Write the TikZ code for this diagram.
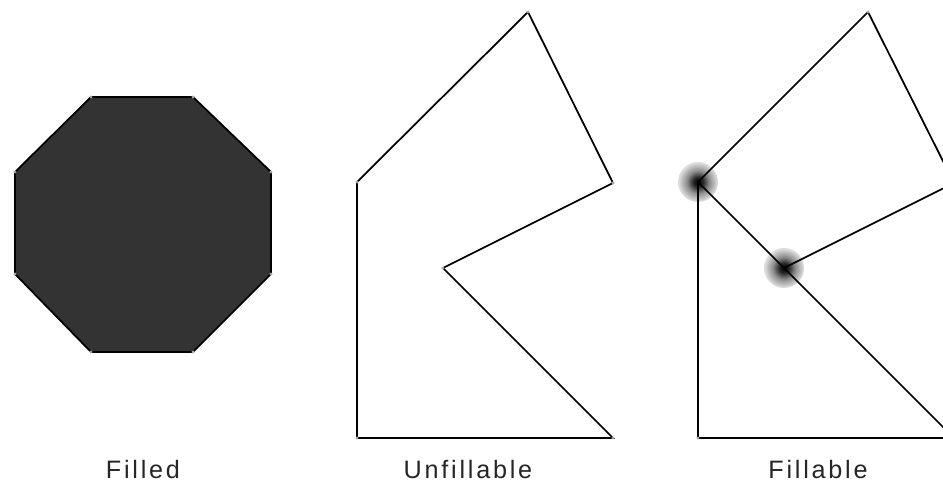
\documentclass[tikz,border=0pt]{standalone}
\usepackage{fontspec}
\setsansfont{Liberation Sans}[LetterSpace=11]
\usetikzlibrary{positioning}

\pgfdeclareradialshading{halo}{\pgfpoint{0cm}{0cm}}{%
    color(0bp)=(black); color(6bp)=(black!85); color(14bp)=(black!45);
    color(24bp)=(black!14); color(34bp)=(black!3); color(42bp)=(white); color(50bp)=(white)}

\begin{document}
\begin{tikzpicture}[
    x=0.03cm, y=-0.03cm,
    edge/.style={line width=1.5pt, black, line cap=round},
    corner/.style={fill=gray!70},
    glow/.style={shading=halo},
    caption/.style={font=\sffamily\fontsize{21.5}{26}\selectfont, text=black!85, anchor=base}
]
\clip (0,0) rectangle (943,482);
\fill[white] (0,0) rectangle (943,482);

% 1. Filled octagon
\coordinate (o1) at (91,97);
\coordinate (o2) at (193,97);
\coordinate (o3) at (271,172);
\coordinate (o4) at (271,274);
\coordinate (o5) at (193,352);
\coordinate (o6) at (91,352);
\coordinate (o7) at (15,274);
\coordinate (o8) at (15,172);
\filldraw[edge, fill=black!80, line cap=butt] (o1) -- (o2) -- (o3) -- (o4) -- (o5) -- (o6) -- (o7) -- (o8) -- cycle;
\foreach \v in {o1,o2,o3,o4,o5,o6,o7,o8}
    \fill[corner] (\v) circle (1.6);

% 2. Unfillable polygon
\coordinate (uT) at (528,12);
\coordinate (uR) at (613,183);
\coordinate (uI) at (443,268);
\coordinate (uB) at (613,438);
\coordinate (uA) at (357,438);
\coordinate (uL) at (357,182);
\draw[edge] (uA) -- (uL) -- (uT) -- (uR) -- (uI) -- (uB) -- (uA);
\foreach \v in {uT,uR,uI,uB,uA,uL}
    \fill[corner] (\v) circle (1.6);

% 3. Fillable polygon (glow on the touching points)
\coordinate (fT) at (868,12);
\coordinate (fR) at (954,183);
\coordinate (fI) at (784,268);
\coordinate (fB) at (954,438);
\coordinate (fA) at (698,438);
\coordinate (fL) at (698,182);
\shade[glow] (fL) circle (20);
\shade[glow] (fI) circle (20);
\draw[edge] (fA) -- (fL) -- (fT) -- (fR) -- (fI);
\draw[edge] (fL) -- (fI) -- (fB) -- (fA);
\foreach \v in {fT,fA}
    \fill[corner] (\v) circle (1.6);

% 4. Captions
\node[caption] (capFilled) at (143,478) {Filled};
\node[caption] (capUnfill) at (468,478) {Unfillable};
\node[caption] (capFill) at (818,478) {Fillable};

\end{tikzpicture}
\end{document}
